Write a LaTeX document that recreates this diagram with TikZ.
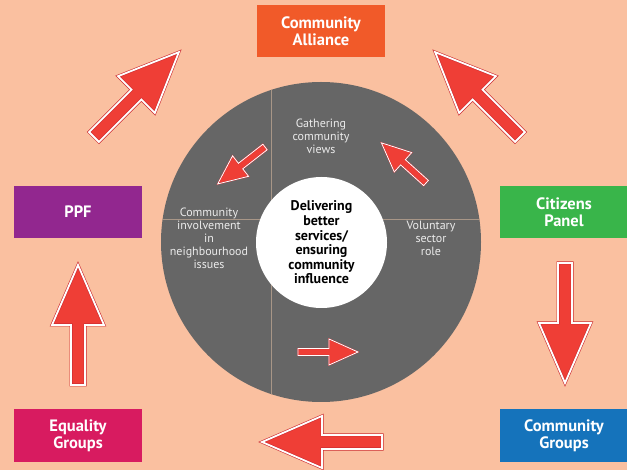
\documentclass[tikz,border=0pt]{standalone}
\usepackage{fontspec}
\setmainfont{PT Sans}
\usetikzlibrary{positioning}

\definecolor{peach}{RGB}{250,192,160}
\definecolor{ringgrey}{RGB}{102,102,102}
\definecolor{splitline}{RGB}{168,150,135}
\definecolor{arrowred}{RGB}{239,62,54}
\definecolor{arrowedge}{RGB}{205,45,50}
\definecolor{allianceorange}{RGB}{241,90,41}
\definecolor{ppfpurple}{RGB}{146,39,143}
\definecolor{panelgreen}{RGB}{57,181,74}
\definecolor{equalitypink}{RGB}{216,27,96}
\definecolor{groupsblue}{RGB}{21,115,187}

\tikzset{
  groupbox/.style={rectangle, minimum width=128pt, minimum height=52pt, inner sep=0pt,
    text=white, align=center, font=\bfseries\fontsize{16.5}{17}\selectfont},
  ringlabel/.style={align=center, text=white!92!black, font=\fontsize{12}{13}\selectfont},
  bigarr/.style={fill=arrowred, draw=arrowedge, line width=0.6pt, double=white,
    double distance=1.8pt, line join=miter},
  smallarr/.style={fill=arrowred, draw=arrowedge, line width=0.3pt, double=white,
    double distance=0.8pt, line join=miter}
}

% block arrows: tail point, direction
\newcommand{\bigarrow}[2]{%
  \draw[bigarr, shift={#1}, rotate=#2] (0,-7) -- (60,-7) -- (60,-26) -- (120,0)
    -- (60,26) -- (60,7) -- (0,7) -- cycle;}
\newcommand{\smallarrow}[2]{%
  \draw[smallarr, shift={#1}, rotate=#2] (0,-3.5) -- (31,-3.5) -- (31,-13) -- (60,0)
    -- (31,13) -- (31,3.5) -- (0,3.5) -- cycle;}

\begin{document}
\begin{tikzpicture}[x=1pt, y=-1pt]
    \useasboundingbox[fill=peach] (0,0) rectangle (627,470);

    % Ring with its four quarters
    \node[circle, fill=ringgrey, minimum size=320pt, inner sep=0pt] (ring) at (321,242) {};
    \begin{scope}
        \clip (321,242) circle (160);
        \draw[splitline, line width=0.5pt] (271,0) -- (271,470);
        \draw[splitline, line width=0.5pt] (0,219) -- (627,219);
    \end{scope}
    \node[circle, fill=white, minimum size=131pt, inner sep=0pt, align=center,
          font=\bfseries\fontsize{14}{14.6}\selectfont] (hub) at (321.5,242.5)
          {Delivering\\better\\services/\\ensuring\\community\\influence};

    % Quarter labels
    \node[ringlabel] (views) at (321,136) {Gathering\\community\\views};
    \node[ringlabel] (involve) at (209,238) {Community\\involvement\\in\\neighbourhood\\issues};
    \node[ringlabel] (voluntary) at (431,238) {Voluntary\\sector\\role};

    % Outer boxes
    \node[groupbox, fill=allianceorange] (alliance) at (321,31) {Community\\Alliance};
    \node[groupbox, fill=ppfpurple] (ppf) at (78,212) {PPF};
    \node[groupbox, fill=panelgreen] (citizens) at (564,212) {Citizens\\Panel};
    \node[groupbox, fill=equalitypink] (equality) at (78,435.5) {Equality\\Groups};
    \node[groupbox, fill=groupsblue] (commgroups) at (564,435.5) {Community\\Groups};

    % Arrows round the outside
    \bigarrow{(94,137)}{45}
    \bigarrow{(520,137)}{135}
    \bigarrow{(565,263)}{-90}
    \bigarrow{(382,442)}{180}
    \bigarrow{(78,385)}{90}

    % Arrows inside the ring
    \smallarrow{(426,183)}{138}
    \smallarrow{(265,147)}{218}
    \smallarrow{(298,352)}{0}
\end{tikzpicture}
\end{document}
